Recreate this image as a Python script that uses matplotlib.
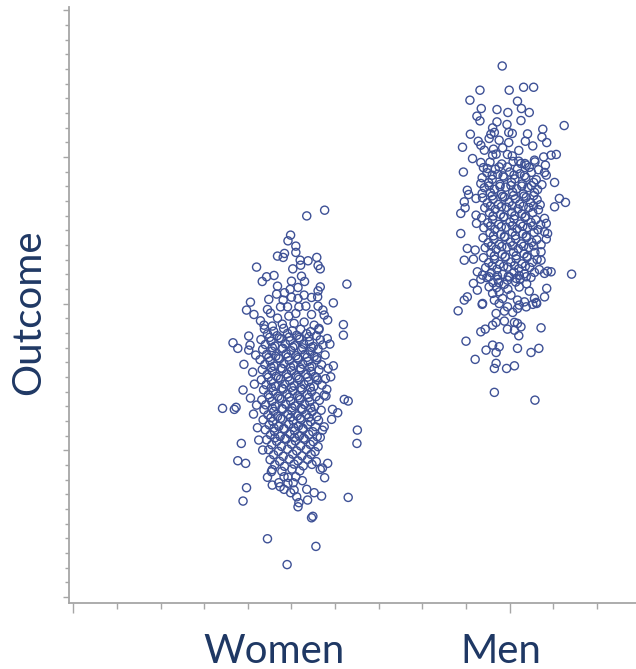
import matplotlib
matplotlib.use("Agg")
import matplotlib.pyplot as plt
from matplotlib.ticker import MultipleLocator, NullFormatter
from matplotlib.transforms import blended_transform_factory

# Group labels and outcome readings: (horizontal jitter, outcome)
categories = ["Women", "Men"]

women_points = [
    # upper tail
    (0.35, 25.98), (0.76, 26.37), (-0.02, 24.67), (-0.08, 24.28), (0.10, 23.92),
    (0.10, 23.49), (-0.16, 23.42), (-0.32, 23.24), (-0.19, 23.15), (0.20, 22.96),
    (0.38, 22.92), (0.58, 23.15), (0.61, 22.60), (0.66, 22.37), (0.21, 22.62),
    (0.03, 22.37), (-0.80, 22.49), (-0.40, 21.92), (-0.57, 21.83), (-0.67, 21.51),
    (0.23, 21.87), (0.30, 21.51), (0.00, 21.53), (1.27, 21.33), (0.66, 21.14),
    (0.61, 20.87), (0.60, 20.46), (0.46, 20.42), (0.15, 21.10), (-0.03, 20.97),
    (-0.32, 21.19), (-0.16, 20.74), (-0.34, 20.65), (-0.52, 20.29), (-0.94, 20.10),
    (-1.03, 19.56), (-0.86, 19.26), (0.96, 20.05), (0.00, 20.44), (0.15, 20.35),
    (0.29, 20.58), (-0.19, 20.24), (-0.25, 19.78), (-0.55, 19.60), (-0.09, 19.78),
    (0.17, 19.78), (0.33, 19.83), (0.61, 19.83), (0.72, 19.56), (-0.71, 18.83),
    (-0.48, 19.35), (-0.32, 19.01), (-0.06, 19.15), (0.10, 19.33), (0.46, 19.26),
    (0.75, 19.22), (0.83, 18.88), (1.19, 18.57), (-0.63, 18.53), (-0.44, 18.47),
    (-0.21, 18.60), (0.06, 18.65), (0.29, 18.74), (0.52, 18.53), (0.63, 18.31),
    # flanks of the middle
    (-1.34, 17.33), (-1.23, 16.95), (-0.98, 17.79), (-0.95, 17.17), (-0.98, 16.83),
    (-1.09, 15.86), (-1.58, 12.86), (-1.31, 12.79), (-1.27, 12.93), (-1.11, 14.11),
    (-1.15, 10.47), (-0.78, 11.54), (1.19, 17.85), (0.88, 17.24), (0.96, 15.76),
    (0.90, 15.01), (0.81, 14.15), (0.79, 13.70), (1.21, 13.47), (1.30, 13.36),
    (0.94, 12.79), (1.06, 12.56), (0.92, 12.11), (0.75, 11.60), (0.66, 10.88),
    (1.51, 11.38), (1.50, 10.47), (-0.82, 16.49), (-0.89, 15.33), (-0.85, 14.51),
    (-0.94, 13.56), (-0.80, 13.08), (-0.87, 12.47), (-0.75, 10.70), (-0.66, 10.02),
    # lower tail
    (-1.23, 9.29), (-1.05, 9.11), (-1.03, 7.45), (-1.11, 6.54), (-0.55, 3.97),
    (0.56, 3.45), (-0.10, 2.21), (0.46, 5.40), (0.49, 5.50), (1.30, 6.79),
    (0.76, 8.13), (0.83, 9.11), (0.66, 8.70), (0.71, 8.79), (0.69, 6.88),
    (0.52, 7.11), (0.37, 6.61), (0.15, 6.15), (0.17, 6.43), (0.12, 6.83),
    (0.35, 7.34), (0.25, 7.93), (0.06, 7.29), (0.04, 7.79), (0.10, 8.20),
    (-0.08, 8.16), (-0.17, 8.20), (-0.29, 7.79), (-0.44, 7.63), (-0.55, 8.16),
    (-0.46, 8.54), (-0.17, 7.34), (-0.08, 7.75), (-0.02, 7.11), (-0.26, 7.52),
    # dense core
    (-0.62, 18.27), (-0.41, 18.12), (-0.18, 18.31), (0.02, 18.15), (0.21, 18.25), (0.44, 18.09), (0.63, 18.22),
    (-0.55, 17.93), (-0.33, 17.81), (-0.09, 17.97), (0.12, 17.84), (0.35, 17.95), (0.57, 17.80),
    (-0.50, 17.70), (-0.28, 17.66), (-0.05, 17.72), (0.17, 17.68), (0.40, 17.74),
    (-0.70, 17.55), (-0.47, 17.44), (-0.24, 17.60), (-0.03, 17.47), (0.19, 17.57), (0.41, 17.42), (0.66, 17.53), (0.82, 17.62),
    (-0.60, 17.21), (-0.38, 17.10), (-0.14, 17.26), (0.07, 17.13), (0.28, 17.24), (0.50, 17.08), (0.72, 17.18),
    (-0.44, 17.00), (-0.20, 16.96), (0.03, 17.03), (0.26, 16.98), (0.46, 17.01),
    (-0.66, 16.88), (-0.45, 16.76), (-0.22, 16.91), (-0.01, 16.79), (0.23, 16.86), (0.43, 16.74), (0.61, 16.90),
    (-0.57, 16.53), (-0.36, 16.42), (-0.12, 16.58), (0.10, 16.45), (0.31, 16.55), (0.52, 16.40), (0.77, 16.50),
    (-0.52, 16.33), (-0.30, 16.30), (-0.08, 16.36), (0.14, 16.31), (0.36, 16.34), (0.58, 16.32),
    (-0.72, 16.18), (-0.49, 16.09), (-0.27, 16.24), (-0.05, 16.11), (0.16, 16.21), (0.38, 16.06), (0.58, 16.17),
    (-0.61, 15.85), (-0.40, 15.74), (-0.17, 15.90), (0.05, 15.77), (0.26, 15.87), (0.47, 15.72), (0.69, 15.83),
    (-0.47, 15.65), (-0.24, 15.61), (-0.02, 15.67), (0.20, 15.63), (0.42, 15.66),
    (-0.67, 15.50), (-0.44, 15.39), (-0.21, 15.55), (0.00, 15.42), (0.22, 15.52), (0.45, 15.37), (0.63, 15.48), (0.84, 15.58),
    (-0.56, 15.16), (-0.35, 15.05), (-0.11, 15.20), (0.11, 15.08), (0.33, 15.18), (0.54, 15.03),
    (-0.53, 14.98), (-0.30, 14.94), (-0.08, 15.00), (0.15, 14.96), (0.37, 14.99), (0.58, 14.95),
    (-0.69, 14.81), (-0.46, 14.71), (-0.25, 14.86), (-0.04, 14.74), (0.18, 14.84), (0.39, 14.69), (0.60, 14.79), (0.78, 14.88),
    (-0.58, 14.47), (-0.37, 14.36), (-0.15, 14.52), (0.06, 14.40), (0.29, 14.49), (0.51, 14.34), (0.70, 14.45),
    (-0.46, 14.28), (-0.22, 14.25), (0.00, 14.30), (0.21, 14.26), (0.43, 14.29),
    (-0.64, 14.12), (-0.42, 14.03), (-0.19, 14.17), (0.03, 14.05), (0.24, 14.15), (0.46, 14.00),
    (-0.53, 13.79), (-0.31, 13.68), (-0.10, 13.83), (0.14, 13.71), (0.36, 13.81), (0.56, 13.66), (0.75, 13.76),
    (-0.50, 13.60), (-0.27, 13.56), (-0.05, 13.62), (0.18, 13.58), (0.40, 13.61),
    (-0.68, 13.44), (-0.45, 13.33), (-0.23, 13.49), (-0.02, 13.36), (0.20, 13.46), (0.42, 13.31), (0.64, 13.41),
    (-0.59, 13.10), (-0.37, 12.99), (-0.13, 13.14), (0.08, 13.02), (0.30, 13.12), (0.53, 12.97),
    (-0.44, 12.88), (-0.22, 12.85), (0.01, 12.90), (0.22, 12.86), (0.44, 12.89),
    (-0.63, 12.76), (-0.41, 12.65), (-0.20, 12.80), (0.01, 12.68), (0.25, 12.78), (0.47, 12.63), (0.68, 12.73),
    (-0.54, 12.42), (-0.32, 12.31), (-0.08, 12.46), (0.13, 12.34), (0.34, 12.44), (0.58, 12.29),
    (-0.47, 12.22), (-0.25, 12.18), (-0.02, 12.24), (0.20, 12.20), (0.40, 12.23),
    (-0.65, 12.08), (-0.43, 11.97), (-0.21, 12.12), (0.04, 12.00), (0.22, 12.10), (0.44, 11.95), (0.62, 12.05),
    (-0.51, 11.74), (-0.29, 11.63), (-0.06, 11.78), (0.16, 11.66), (0.37, 11.76), (0.55, 11.61),
    (-0.40, 11.52), (-0.18, 11.49), (0.05, 11.55), (0.26, 11.50),
    (-0.60, 11.40), (-0.39, 11.29), (-0.16, 11.44), (0.07, 11.32), (0.27, 11.42), (0.49, 11.27), (0.71, 11.37),
    (-0.48, 11.06), (-0.26, 10.95), (-0.03, 11.10), (0.18, 10.98), (0.40, 11.08), (0.59, 10.93),
    (-0.38, 10.85), (-0.15, 10.81), (0.07, 10.87), (0.28, 10.83),
    (-0.57, 10.72), (-0.34, 10.61), (-0.12, 10.76), (0.09, 10.64), (0.31, 10.74), (0.50, 10.59),
    (-0.45, 10.38), (-0.23, 10.27), (0.00, 10.42), (0.21, 10.30), (0.43, 10.40), (0.61, 10.25),
    (-0.52, 10.04), (-0.30, 9.93), (-0.09, 10.08), (0.12, 9.96), (0.34, 10.06), (0.54, 9.91),
    (-0.41, 9.70), (-0.19, 9.59), (0.03, 9.74), (0.24, 9.62), (0.45, 9.72),
    (-0.49, 9.36), (-0.27, 9.25), (-0.05, 9.40), (0.15, 9.28), (0.37, 9.38), (0.57, 9.23),
    (-0.38, 9.02), (-0.16, 8.91), (0.06, 9.06), (0.27, 8.94), (0.47, 9.04),
    (-0.44, 8.68), (-0.22, 8.57), (0.01, 8.72), (0.19, 8.60),
]

men_points = [
    # upper tail
    (-0.17, 36.20), (-0.68, 34.55), (-0.01, 34.55), (0.32, 34.75), (0.55, 34.75),
    (-0.91, 33.87), (0.18, 33.80), (-0.65, 33.30), (-0.29, 33.23), (-0.04, 33.03),
    (0.27, 33.30), (0.45, 33.03), (-0.75, 32.78), (-0.68, 32.46), (-0.29, 32.39),
    (-0.06, 32.21), (0.26, 32.48), (1.25, 32.14), (-0.39, 31.98), (-0.90, 31.55),
    (-0.43, 31.55), (-0.35, 31.67), (-0.02, 31.67), (0.06, 31.60), (0.41, 31.57),
    (0.76, 31.89), (0.74, 31.35), (0.85, 30.98), (-1.08, 30.66), (-0.72, 31.07),
    (-0.66, 30.80), (-0.47, 31.26), (-0.24, 31.14), (-0.02, 30.98), (0.36, 31.07),
    (0.53, 30.75), (-0.58, 30.46), (-0.37, 30.53), (-0.16, 30.62), (0.21, 30.44),
    (-0.85, 29.89), (-0.66, 29.62), (-0.39, 30.12), (-0.31, 30.19), (-0.05, 30.17),
    (0.06, 30.07), (0.21, 29.71), (0.26, 29.55), (0.57, 29.78), (0.78, 30.00),
    (0.95, 30.12), (1.07, 30.17), (-1.06, 28.97), (-0.51, 29.21), (-0.24, 29.32),
    (0.38, 29.44), (0.82, 29.44),
    # flanks of the middle
    (-0.66, 28.19), (-0.97, 27.73), (-0.94, 27.44), (-1.04, 26.94), (-1.02, 26.53),
    (-1.12, 26.15), (-0.77, 27.17), (-0.63, 27.51), (-1.12, 24.78), (-0.77, 26.03),
    (-0.76, 25.47), (-0.97, 23.76), (-0.79, 23.65), (-1.04, 22.96), (-0.83, 23.03),
    (1.03, 28.26), (0.80, 28.94), (0.84, 28.76), (1.14, 27.17), (1.28, 26.90),
    (1.03, 26.60), (0.80, 25.81), (0.84, 25.47), (0.80, 24.89), (0.87, 24.78),
    (0.84, 24.40), (0.72, 23.53), (0.72, 22.96), (0.95, 22.17), (0.87, 22.21),
    (0.80, 22.06), (1.42, 22.01), (-0.74, 22.17), (-0.62, 21.94),
    # lower tail
    (-1.18, 19.51), (-1.00, 17.44), (-0.79, 16.20), (-0.35, 13.95), (0.58, 13.42),
    (-1.04, 20.24), (-0.97, 20.46), (-0.83, 21.38), (-0.63, 19.95), (-0.66, 18.08),
    (-0.56, 18.26), (-0.39, 18.53), (-0.31, 18.72), (-0.12, 18.81), (-0.05, 18.26),
    (0.11, 18.19), (0.11, 18.72), (0.18, 18.65), (0.26, 18.42), (0.21, 17.81),
    (0.72, 18.35), (-0.54, 16.83), (-0.39, 17.17), (-0.31, 16.67), (-0.24, 17.06),
    (0.18, 16.95), (0.49, 16.67), (0.67, 16.95), (-0.31, 15.93), (-0.35, 15.58),
    (-0.07, 15.58), (0.11, 15.76), (0.80, 20.46), (0.85, 21.04), (0.45, 20.85),
    (0.57, 20.35), (0.61, 20.08), (-0.31, 19.33), (-0.12, 19.49), (0.07, 19.40),
    (0.18, 19.67), (0.38, 19.78), (0.53, 19.95), (0.62, 20.01), (-0.24, 20.01),
    (-0.35, 20.24), (-0.16, 20.35), (-0.39, 20.70), (-0.24, 20.80), (0.03, 20.58),
    (0.18, 20.24), (0.22, 19.90), (0.34, 20.12), (-0.47, 21.14), (-0.25, 21.44),
    (-0.05, 21.60), (0.15, 21.72), (0.38, 21.83), (-0.47, 21.83), (-0.66, 21.67),
    (-0.74, 20.92), (-0.62, 20.01), (-0.05, 19.78),
    # dense core
    (-0.45, 29.64), (-0.18, 29.52), (0.08, 29.69), (0.35, 29.55), (0.58, 29.66),
    (-0.60, 29.27), (-0.33, 29.16), (-0.05, 29.31), (0.18, 29.19), (0.45, 29.29), (0.66, 29.13),
    (-0.52, 28.93), (-0.27, 28.82), (0.00, 28.97), (0.24, 28.85), (0.50, 28.95),
    (-0.40, 28.75), (-0.15, 28.71), (0.10, 28.77), (0.34, 28.73),
    (-0.63, 28.58), (-0.40, 28.47), (-0.13, 28.62), (0.12, 28.50), (0.37, 28.60), (0.61, 28.45),
    (-0.48, 28.24), (-0.22, 28.13), (0.04, 28.28), (0.29, 28.16), (0.55, 28.26), (0.74, 28.11),
    (-0.47, 28.03), (-0.22, 27.99), (0.03, 28.05), (0.28, 28.01), (0.50, 28.04),
    (-0.58, 27.90), (-0.35, 27.79), (-0.09, 27.94), (0.16, 27.82), (0.42, 27.92), (0.64, 27.77),
    (-0.44, 27.56), (-0.19, 27.45), (0.07, 27.60), (0.31, 27.48), (0.57, 27.58),
    (-0.40, 27.35), (-0.16, 27.31), (0.09, 27.37), (0.33, 27.33), (0.55, 27.36),
    (-0.62, 27.22), (-0.38, 27.11), (-0.12, 27.26), (0.13, 27.14), (0.38, 27.24), (0.63, 27.09),
    (-0.51, 26.87), (-0.26, 26.76), (-0.01, 26.91), (0.23, 26.79), (0.48, 26.89), (0.70, 26.74),
    (-0.44, 26.65), (-0.19, 26.61), (0.06, 26.67), (0.31, 26.63), (0.55, 26.66),
    (-0.57, 26.53), (-0.33, 26.42), (-0.07, 26.57), (0.19, 26.45), (0.44, 26.55), (0.66, 26.40),
    (-0.46, 26.19), (-0.21, 26.08), (0.05, 26.23), (0.28, 26.11), (0.53, 26.21),
    (-0.38, 25.97), (-0.13, 25.93), (0.12, 25.99), (0.37, 25.95),
    (-0.64, 25.85), (-0.39, 25.74), (-0.14, 25.89), (0.10, 25.77), (0.35, 25.87), (0.60, 25.72),
    (-0.50, 25.51), (-0.25, 25.40), (0.01, 25.55), (0.25, 25.43), (0.49, 25.53), (0.71, 25.38),
    (-0.44, 25.29), (-0.19, 25.25), (0.06, 25.31), (0.30, 25.27), (0.53, 25.30),
    (-0.59, 25.17), (-0.34, 25.06), (-0.08, 25.21), (0.17, 25.09), (0.41, 25.19), (0.65, 25.04),
    (-0.45, 24.83), (-0.20, 24.72), (0.06, 24.87), (0.30, 24.75), (0.56, 24.85),
    (-0.37, 24.62), (-0.12, 24.58), (0.13, 24.64), (0.38, 24.60),
    (-0.61, 24.49), (-0.36, 24.38), (-0.11, 24.53), (0.14, 24.41), (0.39, 24.51), (0.62, 24.36),
    (-0.49, 24.15), (-0.24, 24.04), (0.02, 24.19), (0.27, 24.07), (0.51, 24.17), (0.72, 24.02),
    (-0.42, 23.93), (-0.18, 23.89), (0.07, 23.95), (0.32, 23.91), (0.55, 23.94),
    (-0.56, 23.81), (-0.31, 23.70), (-0.06, 23.85), (0.20, 23.73), (0.44, 23.83),
    (-0.43, 23.47), (-0.17, 23.36), (0.09, 23.51), (0.33, 23.39), (0.58, 23.49),
    (-0.35, 23.25), (-0.10, 23.21), (0.15, 23.27), (0.40, 23.23),
    (-0.60, 23.13), (-0.35, 23.02), (-0.10, 23.17), (0.15, 23.05), (0.40, 23.15), (0.63, 23.00),
    (-0.48, 22.79), (-0.23, 22.68), (0.03, 22.83), (0.28, 22.71), (0.52, 22.81),
    (-0.40, 22.57), (-0.14, 22.53), (0.11, 22.59), (0.36, 22.55),
    (-0.55, 22.45), (-0.29, 22.34), (-0.04, 22.49), (0.21, 22.37), (0.46, 22.47), (0.68, 22.32),
    (-0.42, 22.11), (-0.16, 22.00), (0.10, 22.15), (0.34, 22.03), (0.57, 22.13),
    (-0.28, 21.90), (-0.03, 21.86), (0.22, 21.92),
    (-0.52, 21.77), (-0.27, 21.66), (0.00, 21.81), (0.24, 21.69), (0.49, 21.79),
    (-0.38, 21.43), (-0.12, 21.32), (0.14, 21.47), (0.39, 21.35),
    (-0.30, 21.09), (-0.04, 20.98), (0.22, 21.13),
]

MARKER_COLOR = "#3E5196"
TEXT_COLOR = "#1F3864"
AXIS_COLOR = "#A6A6A6"

fig = plt.figure(figsize=(6.36, 6.69), dpi=100)
ax = fig.add_axes([0.108, 0.0982, 0.895, 0.8913])

group_centers = [5.0, 10.0]
for center, pts in zip(group_centers, [women_points, men_points]):
    xs = [center + j for j, _ in pts]
    ys = [v for _, v in pts]
    ax.scatter(xs, ys, s=34, facecolors="none", edgecolors=MARKER_COLOR,
               linewidths=1.0, zorder=3)

ax.set_xlim(-0.106, 12.94)
ax.set_ylim(-0.43, 40.22)

for side in ("top", "right"):
    ax.spines[side].set_visible(False)
for side in ("left", "bottom"):
    ax.spines[side].set_color(AXIS_COLOR)
    ax.spines[side].set_linewidth(1.3)

ax.xaxis.set_major_locator(MultipleLocator(10))
ax.xaxis.set_minor_locator(MultipleLocator(1))
ax.yaxis.set_major_locator(MultipleLocator(10))
ax.yaxis.set_minor_locator(MultipleLocator(1))
ax.xaxis.set_major_formatter(NullFormatter())
ax.yaxis.set_major_formatter(NullFormatter())
ax.tick_params(axis="x", which="major", length=7, width=1, color=AXIS_COLOR)
ax.tick_params(axis="x", which="minor", length=4.5, width=1, color=AXIS_COLOR)
ax.tick_params(axis="y", which="major", length=4.5, width=1, color=AXIS_COLOR)
ax.tick_params(axis="y", which="minor", length=3, width=1, color=AXIS_COLOR)

label_font = ["Lato", "DejaVu Sans"]
fig.text(29 / 636, 1 - 312 / 669, "Outcome", rotation=90, ha="center",
         va="center", fontsize=29, color=TEXT_COLOR, family=label_font)

trans = blended_transform_factory(ax.transData, fig.transFigure)
label_offsets = [-0.39, -0.2]
for center, off, name in zip(group_centers, label_offsets, categories):
    ax.text(center + off, 0.0085, name, transform=trans, ha="center",
            va="baseline", fontsize=29, color=TEXT_COLOR, family=label_font)

fig.savefig("out.png", dpi=100)
